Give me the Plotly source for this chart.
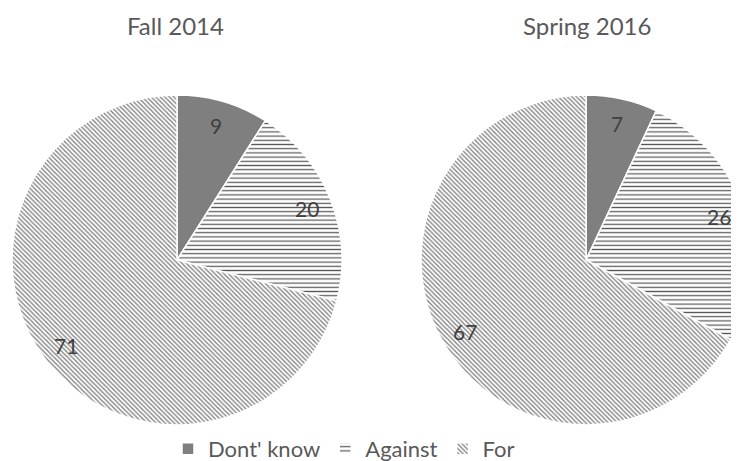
import math
import plotly.graph_objects as go

categories = ["Dont' know", "Against", "For"]
fall_2014 = [9, 20, 71]
spring_2016 = [7, 26, 67]
titles = ["Fall 2014", "Spring 2016"]

FW, FH = 760, 470   # figure size (window of 739x461 shows the visible part)
OFF = 8             # page body margin offset

def px(x):
    return (x - OFF) / FW

def py(y):
    return 1 - (y - OFF) / FH

fig = go.Figure()

pattern = dict(
    shape=["", "-", "\\"],
    fgcolor=["#7f7f7f", "#595959", "#7f7f7f"],
    bgcolor=["#7f7f7f", "white", "white"],
    size=[4, 4.2, 3.2],
    solidity=[1, 0.3, 0.4],
)

# page-space pie geometry (center x, center y, radius)
pies = [(177, 260, 165), (586, 260, 165)]
title_x = [175, 587]

for i, vals in enumerate([fall_2014, spring_2016]):
    cx, cy, r = pies[i]
    dom = dict(x=[px(cx - r), px(cx + r)], y=[py(cy + r), py(cy - r)])
    fig.add_trace(go.Pie(
        labels=categories, values=vals, sort=False, direction="clockwise",
        rotation=0, textinfo="none",
        marker=dict(colors=["#7f7f7f", "white", "white"], pattern=pattern,
                    line=dict(color="white", width=1.5)),
        domain=dom, showlegend=(i == 0), hoverinfo="label+value",
    ))
    # value labels placed along each slice bisector
    total = sum(vals)
    cum = 0
    for v in vals:
        mid = (cum + v / 2) / total * 2 * math.pi
        cum += v
        rr = 0.85 * r
        lx = cx + rr * math.sin(mid)
        ly = cy - rr * math.cos(mid)
        fig.add_annotation(x=px(lx), y=py(ly), xref="paper", yref="paper",
                           text=str(v), showarrow=False, xanchor="center",
                           yanchor="middle",
                           font=dict(size=21, color="#404040", family="Lato"))
    fig.add_annotation(x=px(title_x[i]), y=py(25), xref="paper", yref="paper",
                       text=titles[i], showarrow=False, xanchor="center",
                       yanchor="middle",
                       font=dict(size=24, color="#595959", family="Lato"))

fig.update_layout(
    width=FW, height=FH, margin=dict(l=0, r=0, t=0, b=0),
    paper_bgcolor="white", plot_bgcolor="white",
    font=dict(family="Lato", color="#595959"),
    legend=dict(orientation="h", x=px(344), xanchor="center", y=py(449),
                yanchor="middle", font=dict(size=22, color="#595959"),
                itemwidth=30),
)

fig.write_html("out.html")
